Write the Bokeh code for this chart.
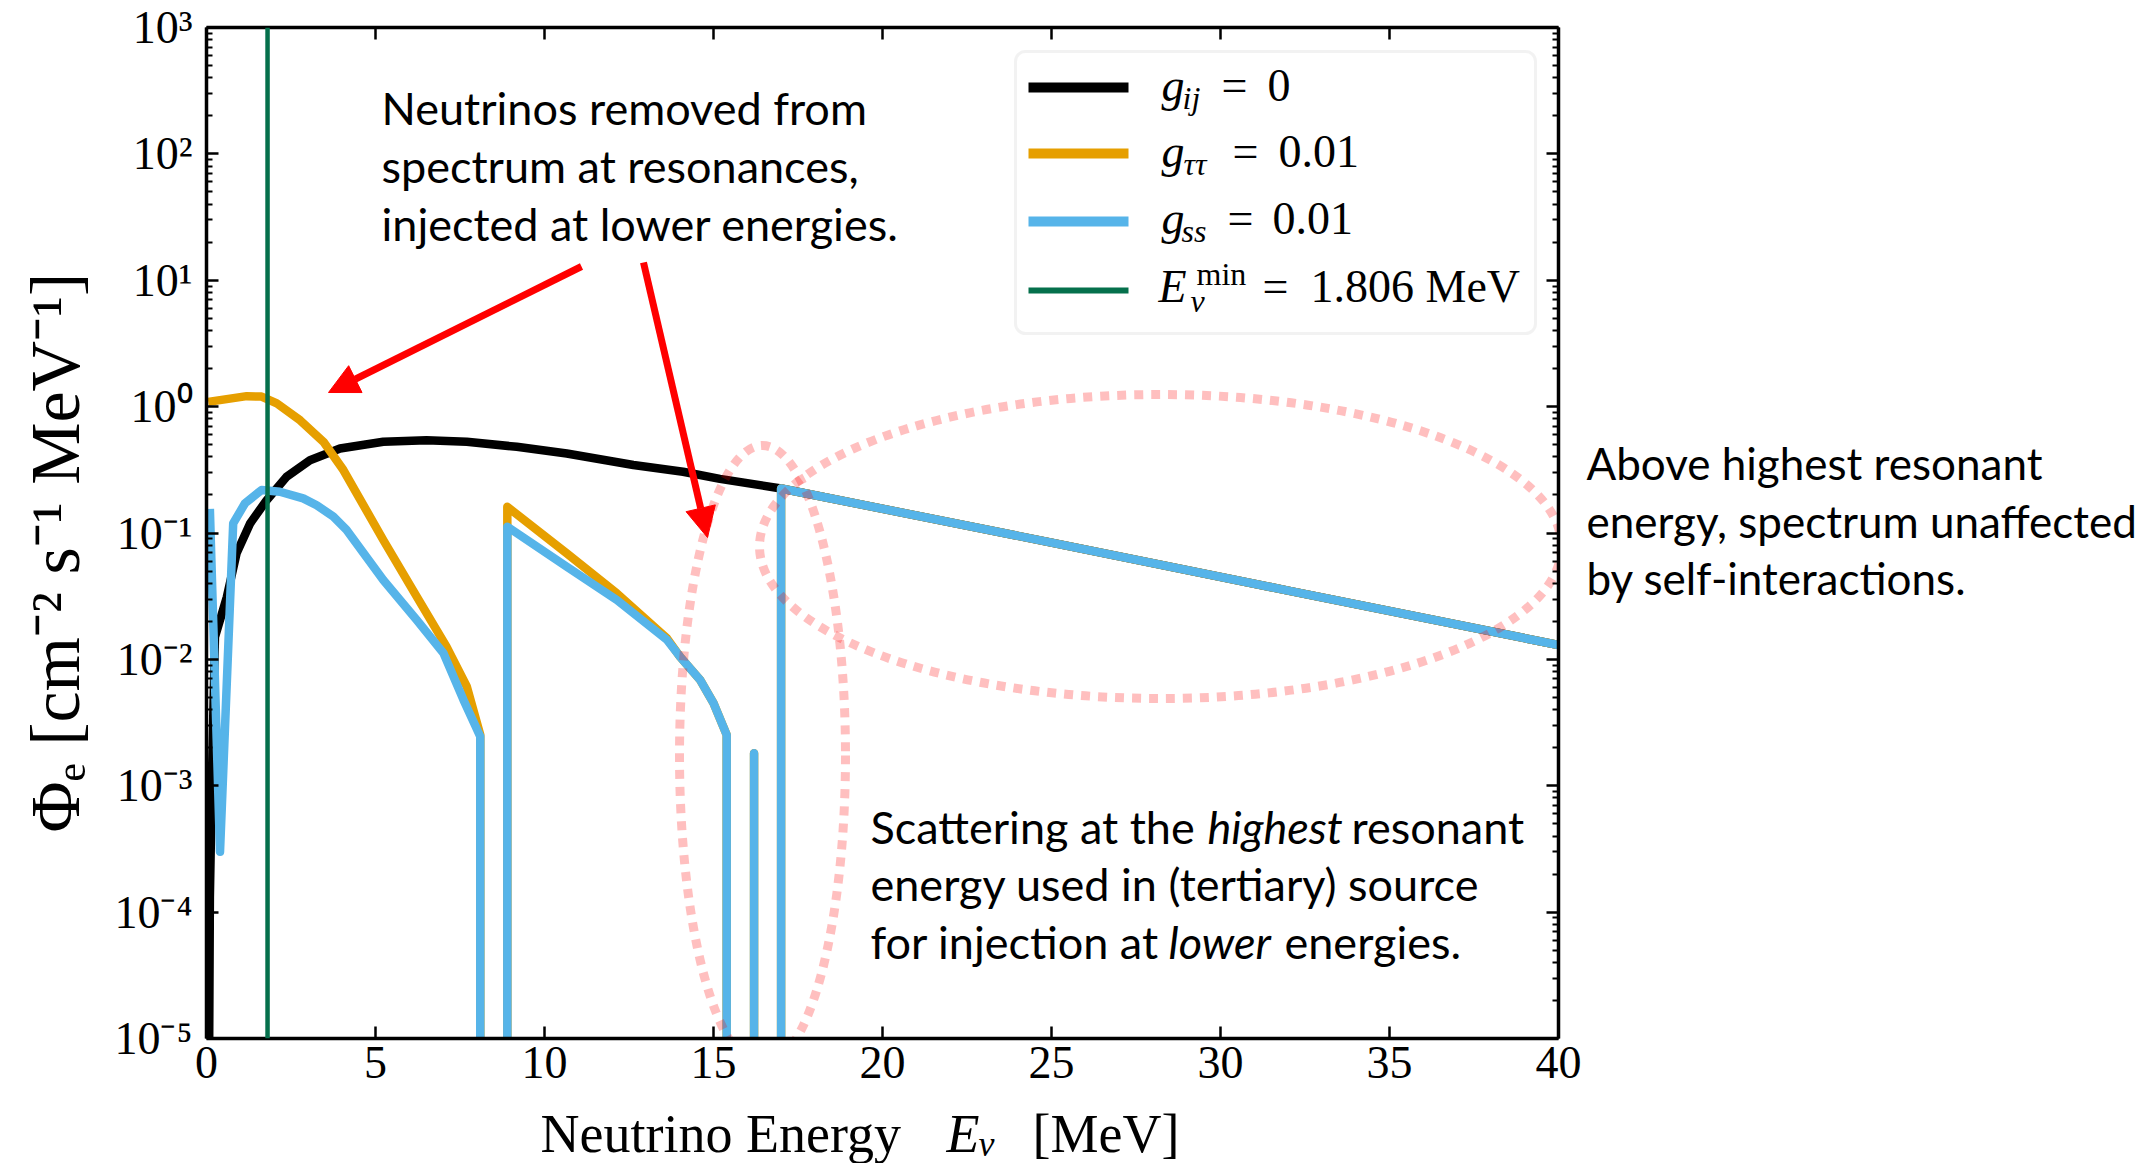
import math
from bokeh.plotting import figure
from bokeh.layouts import row, column
from bokeh.models import (Range1d, FixedTicker, LinearAxis, LogAxis, CustomJSTickFormatter,
                          Label, Arrow, NormalHead, BoxAnnotation, Span)
from bokeh.embed import file_html
from bokeh.resources import INLINE

# ---------------- data (E in MeV, flux in cm^-2 s^-1 MeV^-1) -------------
ZERO = 1e-7   # zero flux (drawn below the 1e-5 axis floor)

energy_gij0 = [0.08, 0.10, 0.17, 0.25, 0.60, 0.89, 1.29, 1.78, 2.37, 3.06, 3.95, 5.23, 6.51,
               7.70, 9.18, 10.66, 12.63, 14.10, 15.19, 17.00, 25.0, 32.0, 40.0]
flux_gij0 = [1.0e-5, 1.3e-4, 1.5e-3, 0.015, 0.031, 0.069, 0.119, 0.182, 0.279, 0.377, 0.466,
             0.527, 0.543, 0.527, 0.481, 0.426, 0.345, 0.305, 0.268, 0.225, 0.084, 0.035, 0.013]

energy_gtt = [0.05, 1.19, 1.63, 2.08, 2.77, 3.46, 4.05, 5.23, 6.22, 7.10, 7.70, 8.10, 8.10,
              8.90, 8.90, 10.66, 12.14, 13.62, 14.01, 14.60, 15.00, 15.39, 15.39, 16.20, 16.20,
              16.20, 17.00, 17.00, 25.0, 32.0, 40.0]
flux_gtt = [1.09, 1.21, 1.20, 1.06, 0.78, 0.527, 0.315, 0.088, 0.0314, 0.0126, 0.0061, 0.00253,
            ZERO, ZERO, 0.161, 0.069, 0.0333, 0.0147, 0.0105, 0.0069, 0.0045, 0.00253, ZERO,
            ZERO, 0.00181, ZERO, ZERO, 0.225, 0.084, 0.035, 0.013]

energy_gss = [0.10, 0.40, 0.79, 1.14, 1.63, 2.17, 2.86, 3.26, 3.75, 4.14, 5.23, 6.22, 7.01,
              7.60, 8.10, 8.10, 8.90, 8.90, 10.66, 12.14, 13.62, 14.01, 14.60, 15.00, 15.39,
              15.39, 16.20, 16.20, 16.20, 17.00, 17.00, 25.0, 32.0, 40.0]
flux_gss = [0.155, 3.0e-4, 0.119, 0.172, 0.219, 0.212, 0.188, 0.166, 0.135, 0.106, 0.0425,
            0.0205, 0.0112, 0.0048, 0.00245, ZERO, ZERO, 0.112, 0.054, 0.0295, 0.0143, 0.0105,
            0.0069, 0.0045, 0.00253, ZERO, ZERO, 0.00181, ZERO, ZERO, 0.225, 0.084, 0.035, 0.013]

e_min = 1.806

x_ticks = [0, 5, 10, 15, 20, 25, 30, 35, 40]
y_ticks = [1e-5, 1e-4, 1e-3, 1e-2, 1e-1, 1e0, 1e1, 1e2, 1e3]
y_minor = [m * 10.0 ** k for k in range(-5, 3) for m in range(2, 10)]

colors = ["#000000", "#E69F00", "#56B4E9", "#05704c"]

# ---------------- layout (screen pixels of the whole 2144 x 1163 page) ----------------
W, H = 2144, 1163
LEFT_W = 110            # panel holding the y-axis title
RIGHT_X = 1585          # panel holding the right-hand note starts here
MAIN_H = 1099           # x-axis title panel below it
XL_H = H - MAIN_H
MAIN_W = RIGHT_X - LEFT_W
FRAME_L, FRAME_R, FRAME_T, FRAME_B = 206, 1558, 27, 1038
BORD_L, BORD_R = FRAME_L - LEFT_W, RIGHT_X - FRAME_R
PX_PER_MEV = (FRAME_R - FRAME_L) / 40.0
PX_PER_DEC = (FRAME_B - FRAME_T) / 8.0
BL = 0.28               # shift between requested and drawn alphabetic baseline (in em)


def sx(X):
    return (X - FRAME_L) / PX_PER_MEV


def sy(Y):
    return 10 ** (3 - (Y - FRAME_T) / PX_PER_DEC)


SERIF = "Liberation Serif"
SANS = "Lato"

p = figure(width=MAIN_W, height=MAIN_H, x_range=Range1d(0, 40), y_range=Range1d(1e-5, 1e3),
           y_axis_type="log", output_backend="svg", toolbar_location=None,
           min_border_left=BORD_L, min_border_right=BORD_R,
           min_border_top=FRAME_T, min_border_bottom=MAIN_H - FRAME_B)
p.outline_line_color = None
p.xgrid.visible = False
p.ygrid.visible = False
p.background_fill_color = "white"
p.border_fill_color = "white"

sup_js = """
const sup = {"-":"\u207b","0":"\u2070","1":"\u00b9","2":"\u00b2","3":"\u00b3","4":"\u2074",
             "5":"\u2075","6":"\u2076","7":"\u2077","8":"\u2078","9":"\u2079"};
const e = Math.round(Math.log10(tick));
return "10" + String(e).split("").map(c => sup[c]).join("");
"""
empty_fmt = CustomJSTickFormatter(code="return '';")


def style_axis(ax, minor):
    ax.axis_line_width = 3.5
    ax.axis_line_color = "black"
    ax.major_tick_in = 12
    ax.major_tick_out = 0
    ax.major_tick_line_width = 2.5
    ax.minor_tick_in = 6 if minor else 0
    ax.minor_tick_out = 0
    ax.minor_tick_line_width = 1.8
    ax.major_label_text_font = SERIF
    ax.major_label_text_font_size = "46px"
    ax.major_label_text_color = "black"


xb = p.xaxis[0]
xb.ticker = FixedTicker(ticks=x_ticks)
style_axis(xb, False)
xb.major_label_standoff = 8

yl = p.yaxis[0]
yl.ticker = FixedTicker(ticks=y_ticks, minor_ticks=y_minor)
yl.formatter = CustomJSTickFormatter(code=sup_js)
style_axis(yl, True)
yl.major_label_standoff = 14

top = LinearAxis(ticker=FixedTicker(ticks=x_ticks), formatter=empty_fmt)
style_axis(top, False)
top.major_label_text_font_size = "0px"
p.add_layout(top, "above")

right = LogAxis(ticker=FixedTicker(ticks=y_ticks, minor_ticks=y_minor), formatter=empty_fmt)
style_axis(right, True)
right.major_label_text_font_size = "0px"
p.add_layout(right, "right")

# ---------------- data lines ----------------
LW = 8.5
p.line(energy_gij0, flux_gij0, line_color=colors[0], line_width=LW, line_join="round")
p.line(energy_gtt, flux_gtt, line_color=colors[1], line_width=LW, line_join="round")
p.line(energy_gss, flux_gss, line_color=colors[2], line_width=LW, line_join="round")
p.add_layout(Span(location=e_min, dimension="height", line_color=colors[3], line_width=4.5))

# ---------------- dotted highlight ellipses ----------------
p.ellipse(x=[sx(762), sx(1160)], y=[sy(755), sy(546)], width=[166, 802], height=[620, 304],
          width_units="screen", height_units="screen", fill_color=None,
          line_color="red", line_alpha=0.25, line_width=9, line_dash="9 8")

# ---------------- legend ----------------
p.add_layout(BoxAnnotation(left=sx(1015), right=sx(1535), top=sy(51), bottom=sy(333),
                           fill_color="white", fill_alpha=0.85, line_color="#d4d4d4",
                           line_width=3, border_radius=10, level="underlay"))
row_y = [87, 153, 221, 290]
p.segment(x0=[sx(1028)] * 4, x1=[sx(1128)] * 4, y0=[sy(v) for v in row_y],
          y1=[sy(v) for v in row_y], line_color=colors, line_width=[10, 10, 10, 6])


def make_label(X, Y, text, size, font=SERIF, style="normal", align="left",
               angle=0.0, conv=None):
    """Y is the wanted baseline in page pixels; conv maps page pixels to data units."""
    fx, fy = conv
    if angle == 0.0:
        Yb = Y - BL * size
        Xb = X
    else:
        Yb = Y
        Xb = X - BL * size
    return Label(x=fx(Xb), y=fy(Yb), text=text, text_font=font, text_font_size=f"{size}px",
                 text_font_style=style, text_align=align, text_baseline="alphabetic",
                 angle=angle, text_color="black")


def lab(X, Y, text, size, **kw):
    p.add_layout(make_label(X, Y, text, size, conv=(sx, sy), **kw))


LEG = 46
SUB = 32
lab(1161, 98, "g", LEG, style="italic")
lab(1182, 106, "ij", SUB, style="italic")
lab(1221, 98, "=", LEG)
lab(1267, 98, "0", LEG)
lab(1161, 164, "g", LEG, style="italic")
lab(1183, 172, "ττ", SUB, style="italic")
lab(1232, 164, "=", LEG)
lab(1278, 164, "0.01", LEG)
lab(1161, 231, "g", LEG, style="italic")
lab(1181, 239, "ss", SUB, style="italic")
lab(1227, 231, "=", LEG)
lab(1272, 231, "0.01", LEG)
lab(1158, 299, "E", LEG, style="italic")
lab(1196, 282, "min", SUB)
lab(1190, 309, "ν", SUB, style="italic")
lab(1262, 299, "=", LEG)
lab(1310, 299, "1.806 MeV", LEG)

# ---------------- annotations inside the frame ----------------
TS = 45
lab(381, 120, "Neutrinos removed from", TS, font=SANS)
lab(381, 178, "spectrum at resonances,", TS, font=SANS)
lab(381, 236, "injected at lower energies.", TS, font=SANS)

lab(870, 839, "Scattering at the", TS, font=SANS)
lab(1207, 839, "highest", TS, font=SANS, style="italic")
lab(1351, 839, "resonant", TS, font=SANS)
lab(870, 896, "energy used in (tertiary) source", TS, font=SANS)
lab(870, 954, "for injection at", TS, font=SANS)
lab(1168, 954, "lower", TS, font=SANS, style="italic")
lab(1284, 954, "energies.", TS, font=SANS)

for (X0, Y0, X1, Y1) in [(581, 266, 328, 392), (643, 262, 707, 537)]:
    p.add_layout(Arrow(end=NormalHead(size=30, fill_color="#ff0000", line_color="#ff0000"),
                       x_start=sx(X0), y_start=sy(Y0), x_end=sx(X1), y_end=sy(Y1),
                       line_color="#ff0000", line_width=7))


# ---------------- side panels (plain canvases in page-pixel coordinates) ----------------
def panel(w, h, xr, yr, bl=0, br=0, bt=0, bb=0):
    f = figure(width=w, height=h, x_range=Range1d(*xr), y_range=Range1d(*yr),
               output_backend="svg", toolbar_location=None, x_axis_location=None,
               y_axis_location=None, min_border_left=bl, min_border_right=br,
               min_border_top=bt, min_border_bottom=bb)
    f.outline_line_color = None
    f.grid.visible = False
    f.background_fill_color = "white"
    f.border_fill_color = "white"
    return f


ident = (lambda v: v, lambda v: v)

# frames of the side panels coincide with the main frame edges that Bokeh aligns
left_panel = panel(LEFT_W, H, (0, LEFT_W), (FRAME_B, FRAME_T), bt=FRAME_T, bb=H - FRAME_B)
left_panel.add_layout(make_label(75, 552, "Φₑ [cm⁻² s⁻¹ MeV⁻¹]", 70, align="center",
                                 angle=math.pi / 2, conv=ident))

xl_panel = panel(MAIN_W, XL_H, (FRAME_L, FRAME_R), (H, MAIN_H), bl=BORD_L, br=BORD_R)
for (X, Y, t, s, st) in [(540, 1149, "Neutrino Energy", 54, "normal"),
                         (946, 1149, "E", 54, "italic"),
                         (978, 1154, "ν", 36, "italic"),
                         (1032, 1149, "[MeV]", 54, "normal")]:
    xl_panel.add_layout(make_label(X, Y, t, s, style=st, conv=ident))

right_panel = panel(W - RIGHT_X, H, (RIGHT_X, W), (FRAME_B, FRAME_T), bt=FRAME_T,
                    bb=H - FRAME_B)
for (Y, t) in [(475, "Above highest resonant"), (533, "energy, spectrum unaffected"),
               (590, "by self-interactions.")]:
    right_panel.add_layout(make_label(RIGHT_X + 1, Y, t, 44, font=SANS, conv=ident))

layout = row(left_panel, column(p, xl_panel), right_panel)
open("out.html", "w").write(file_html(layout, INLINE))
